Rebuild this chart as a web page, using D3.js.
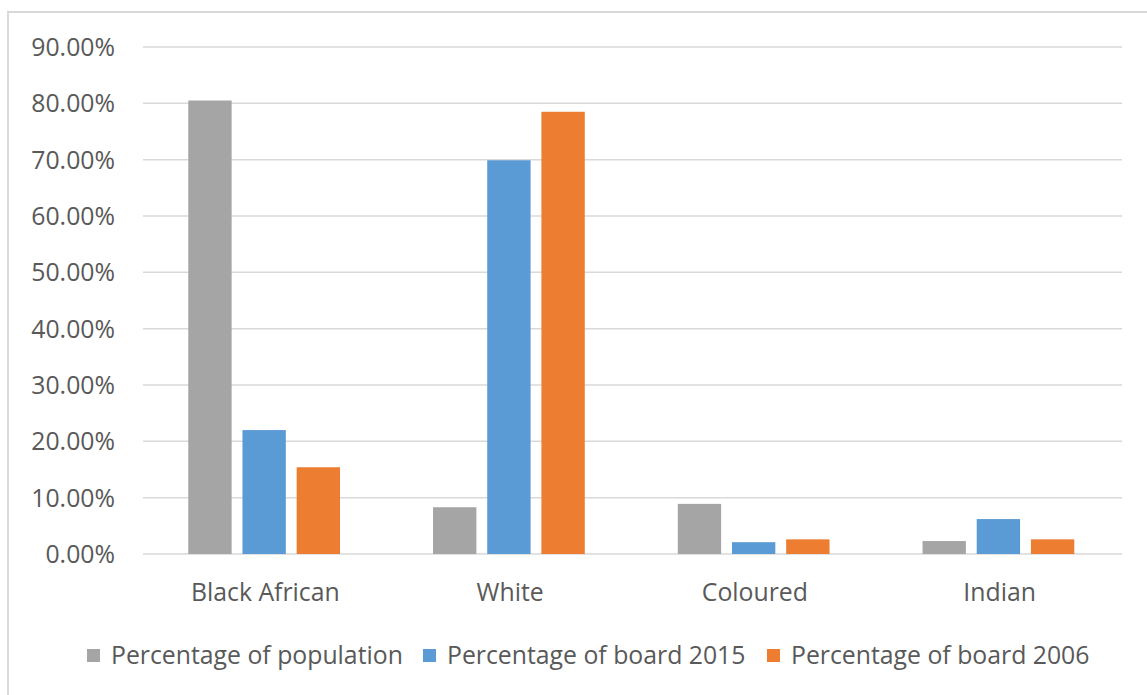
<!DOCTYPE html>
<html><head><meta charset="utf-8">
<script src="https://cdn.jsdelivr.net/npm/d3@7"></script>
<style>body{margin:0;background:#fff;} svg{display:block;}</style>
</head><body>
<script>
const categories = ["Black African", "White", "Coloured", "Indian"];
const seriesNames = ["Percentage of population", "Percentage of board 2015", "Percentage of board 2006"];
const population = [0.805, 0.083, 0.089, 0.023];
const board2015 = [0.220, 0.699, 0.021, 0.062];
const board2006 = [0.154, 0.785, 0.026, 0.026];
const colors = ["#a5a5a5", "#5b9bd5", "#ed7d31"];
const yTicks = [0, 0.1, 0.2, 0.3, 0.4, 0.5, 0.6, 0.7, 0.8, 0.9];

(function () {
const W = 1147, H = 695;
const font = "'Open Sans', Lato, sans-serif";
const fs = 24.8;
const svg = d3.select("body").append("svg").attr("width", W).attr("height", H);

svg.append("rect").attr("x", 8).attr("y", 12).attr("width", W + 10).attr("height", H + 10)
  .attr("fill", "#fff").attr("stroke", "#d9d9d9").attr("stroke-width", 2);

const pl = 143, pr = 1122, pt = 47, pb = 554;
const y = d3.scaleLinear().domain([0, 0.9]).range([pb, pt]);
const x0 = d3.scaleBand().domain(categories).range([pl, pr]).padding(0);
const x1 = d3.scaleBand().domain(seriesNames)
  .range([x0.bandwidth() * 0.185, x0.bandwidth() * 0.805]).paddingInner(0.2);

const series = [population, board2015, board2006];

svg.append("g").selectAll("line").data(yTicks).join("line")
  .attr("x1", pl).attr("x2", pr)
  .attr("y1", d => y(d)).attr("y2", d => y(d))
  .attr("stroke", "#d9d9d9").attr("stroke-width", 1.5);

svg.append("g").selectAll("text").data(yTicks).join("text")
  .attr("x", 115).attr("y", d => y(d)).attr("dy", "0.36em")
  .attr("text-anchor", "end").attr("font-family", font).attr("font-size", fs)
  .attr("fill", "#595959").text(d => d3.format(".2%")(d));

categories.forEach((c, i) => {
  series.forEach((s, j) => {
    svg.append("rect")
      .attr("x", x0(c) + x1(seriesNames[j]))
      .attr("y", y(s[i]))
      .attr("width", x1.bandwidth())
      .attr("height", y(0) - y(s[i]))
      .attr("fill", colors[j]);
  });
});

svg.append("g").selectAll("text").data(categories).join("text")
  .attr("x", d => x0(d) + x0.bandwidth() / 2).attr("y", 601)
  .attr("text-anchor", "middle").attr("font-family", font).attr("font-size", fs)
  .attr("fill", "#595959").text(d => d);

const legendX = [87, 423, 767];
seriesNames.forEach((n, j) => {
  svg.append("rect").attr("x", legendX[j]).attr("y", 649).attr("width", 13).attr("height", 13).attr("fill", colors[j]);
  svg.append("text").attr("x", legendX[j] + 24).attr("y", 664)
    .attr("font-family", font).attr("font-size", fs).attr("fill", "#595959").text(n);
});
})();
</script>
</body></html>
